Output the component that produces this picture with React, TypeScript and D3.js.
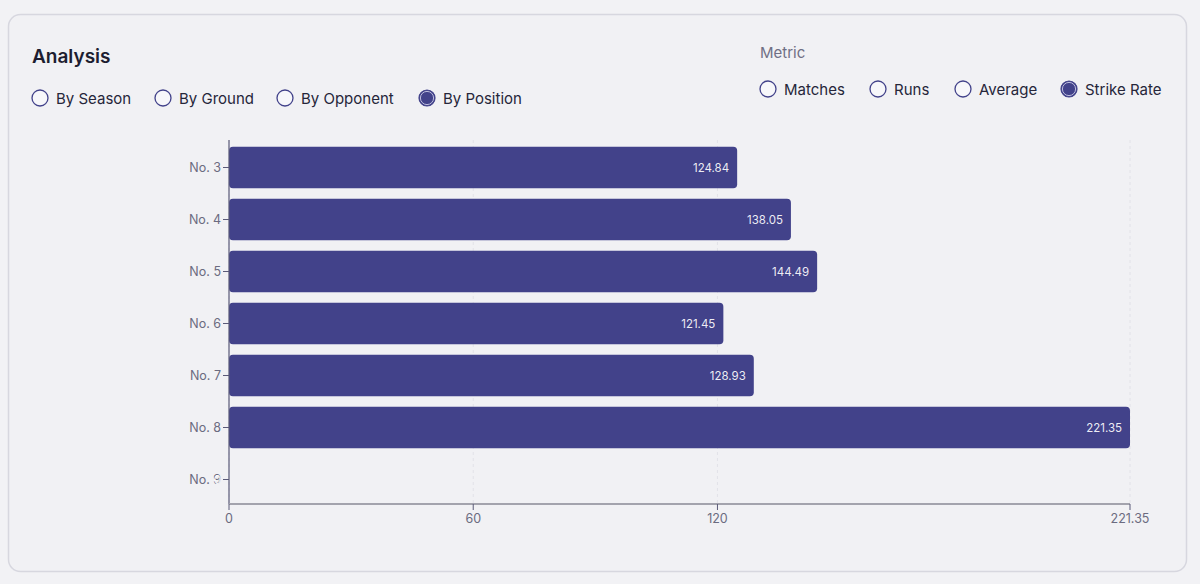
import React from "react";
import * as d3 from "d3";

const positions = ["No. 3", "No. 4", "No. 5", "No. 6", "No. 7", "No. 8", "No. 9"];
const strikeRates = [124.84, 138.05, 144.49, 121.45, 128.93, 221.35, 0];
const xTickValues = [0, 60, 120, 221.35];
const groupOptions = ["By Season", "By Ground", "By Opponent", "By Position"];
const groupSelected = "By Position";
const metricOptions = ["Matches", "Runs", "Average", "Strike Rate"];
const metricSelected = "Strike Rate";

const W = 1200;
const H = 584;
const FONT = "Inter, 'Noto Sans', sans-serif";
const BAR = "#42428a";
const AXIS_TXT = "#6b6b80";

const groupX = [40, 163, 285, 427];
const metricX = [768, 878, 963, 1069];

function Radio({ cx, cy, label, selected }: { cx: number; cy: number; label: string; selected: boolean }) {
  return (
    <g>
      {selected ? (
        <>
          <circle cx={cx} cy={cy} r={8} fill={BAR} stroke={BAR} strokeWidth={1.2} />
          <circle cx={cx} cy={cy} r={6.6} fill="none" stroke="#c9c9e6" strokeWidth={0.9} />
        </>
      ) : (
        <circle cx={cx} cy={cy} r={8} fill="#f7f7fa" stroke={BAR} strokeWidth={1.3} />
      )}
      <text x={cx + 16} y={cy + 5.5} fontSize={15} fontWeight={400} fill="#26263a" fontFamily={FONT}>
        {label}
      </text>
    </g>
  );
}

export default function App() {
  const x = d3.scaleLinear().domain([0, d3.max(strikeRates) as number]).range([229, 1130]);
  const y = d3.scaleBand<string>().domain(positions).range([141.5, 505.5]).paddingInner(0.2).paddingOuter(0.1);
  const fmt = d3.format(".2~f");
  const bw = y.bandwidth();

  return (
    <svg width={W} height={H} style={{ position: "absolute", left: 0, top: 0, display: "block" }} fontFamily={FONT}>
      <rect x={0} y={0} width={W} height={H} fill="#f2f2f5" />
      <rect x={8.5} y={14.5} width={1178} height={557} rx={12} fill="#f1f1f4" stroke="#d7d7df" strokeWidth={1.5} />

      <text x={32} y={63} fontSize={19} fontWeight={600} fill="#1d1d30">Analysis</text>
      {groupOptions.map((g, i) => (
        <Radio key={g} cx={groupX[i]} cy={98} label={g} selected={g === groupSelected} />
      ))}

      <text x={760} y={57.5} fontSize={15} fill="#6f6f84">Metric</text>
      {metricOptions.map((m, i) => (
        <Radio key={m} cx={metricX[i]} cy={89} label={m} selected={m === metricSelected} />
      ))}

      {/* grid */}
      {xTickValues.map((t) => (
        <line key={"g" + t} x1={x(t)} x2={x(t)} y1={140} y2={504} stroke="#e2e2e8" strokeDasharray="3,3" />
      ))}

      {/* bars */}
      {positions.map((p, i) => (
        <g key={p}>
          {strikeRates[i] > 0 && (
            <rect x={x(0)} y={y(p)} width={x(strikeRates[i]) - x(0)} height={bw} rx={4} fill={BAR} />
          )}
        </g>
      ))}

      {/* y axis */}
      <line x1={229} x2={229} y1={140} y2={504} stroke="#5a5a78" strokeWidth={1.2} />
      {positions.map((p) => (
        <g key={"yt" + p}>
          <line x1={223} x2={229} y1={(y(p) as number) + bw / 2} y2={(y(p) as number) + bw / 2} stroke="#5a5a78" />
          <text x={221} y={(y(p) as number) + bw / 2 + 4.5} fontSize={12.5} fill={AXIS_TXT} textAnchor="end">{p}</text>
        </g>
      ))}

      {/* value labels */}
      {positions.map((p, i) => (
        <text
          key={"v" + p}
          x={x(strikeRates[i]) - 8}
          y={(y(p) as number) + bw / 2 + 4.3}
          fontSize={11.5}
          fill="#ffffff"
          fillOpacity={0.92}
          textAnchor="end"
        >
          {fmt(strikeRates[i])}
        </text>
      ))}

      {/* x axis */}
      <line x1={229} x2={1130} y1={504} y2={504} stroke="#a3a3ad" strokeWidth={2} />
      {xTickValues.map((t) => (
        <g key={"xt" + t}>
          <line x1={x(t)} x2={x(t)} y1={504} y2={510} stroke="#5a5a78" />
          <text x={x(t)} y={522.5} fontSize={12.5} fill={AXIS_TXT} textAnchor="middle">{String(t)}</text>
        </g>
      ))}
    </svg>
  );
}
